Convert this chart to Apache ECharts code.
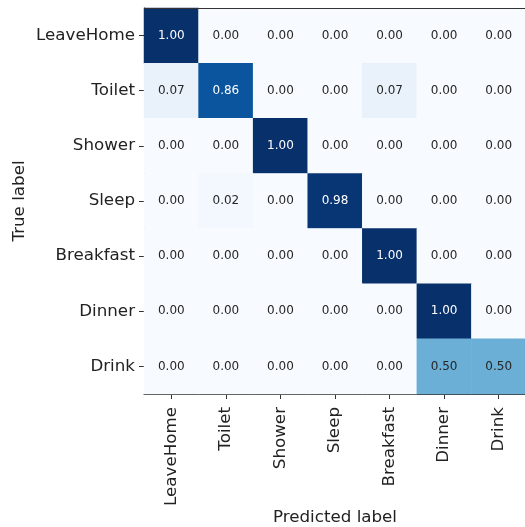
<!DOCTYPE html>
<html>
<head>
<meta charset="utf-8">
<script src="https://cdn.jsdelivr.net/npm/echarts@6/dist/echarts.min.js"></script>
<style>
  html, body { margin: 0; padding: 0; background: #fff; }
  #chart { width: 525px; height: 527px; }
</style>
</head>
<body>
<div id="chart"></div>
<script>
// Activity classes (rows = true label, columns = predicted label)
const classes = ['LeaveHome', 'Toilet', 'Shower', 'Sleep', 'Breakfast', 'Dinner', 'Drink'];

// Row-normalised confusion matrix, one array per true class
const rowLeaveHome = [1.00, 0.00, 0.00, 0.00, 0.00, 0.00, 0.00];
const rowToilet    = [0.07, 0.86, 0.00, 0.00, 0.07, 0.00, 0.00];
const rowShower    = [0.00, 0.00, 1.00, 0.00, 0.00, 0.00, 0.00];
const rowSleep     = [0.00, 0.02, 0.00, 0.98, 0.00, 0.00, 0.00];
const rowBreakfast = [0.00, 0.00, 0.00, 0.00, 1.00, 0.00, 0.00];
const rowDinner    = [0.00, 0.00, 0.00, 0.00, 0.00, 1.00, 0.00];
const rowDrink     = [0.00, 0.00, 0.00, 0.00, 0.00, 0.50, 0.50];

const matrix = [rowLeaveHome, rowToilet, rowShower, rowSleep, rowBreakfast, rowDinner, rowDrink];

// Matplotlib "Blues" colour ramp
const blues = ['#f7fbff', '#deebf7', '#c6dbef', '#9ecae1', '#6baed6',
               '#4292c6', '#2171b5', '#08519c', '#08306b'];

const maxVal = Math.max(...matrix.map(r => Math.max(...r)));
const thresh = maxVal / 2;

const cells = [];
matrix.forEach((row, i) => {
  row.forEach((v, j) => {
    cells.push({
      value: [j, i, v],
      label: { color: v > thresh ? '#ffffff' : '#262626' }
    });
  });
});

const font = 'DejaVu Sans';
const chart = echarts.init(document.getElementById('chart'), null, { renderer: 'canvas' });

chart.setOption({
  animation: false,
  backgroundColor: '#ffffff',
  grid: {
    left: 144, top: 8, width: 382, height: 386,
    containLabel: false,
    outerBoundsMode: 'none'
  },
  xAxis: {
    type: 'category',
    data: classes,
    position: 'bottom',
    name: 'Predicted label',
    nameLocation: 'middle',
    nameGap: 115,
    nameMoveOverlap: false,
    nameTextStyle: { fontFamily: font, fontSize: 16.7, color: '#222' },
    axisLine: { show: true, lineStyle: { color: '#333', width: 1 } },
    axisTick: { show: true, alignWithLabel: true, length: 5, lineStyle: { color: '#333' } },
    axisLabel: { rotate: 90, margin: 13, fontFamily: font, fontSize: 16.7, color: '#222' },
    splitLine: { show: false },
    splitArea: { show: false }
  },
  yAxis: {
    type: 'category',
    data: classes,
    inverse: true,
    name: 'True label',
    nameLocation: 'middle',
    nameGap: 116,
    nameMoveOverlap: false,
    nameRotate: 90,
    nameTextStyle: { fontFamily: font, fontSize: 16.7, color: '#222' },
    axisLine: { show: true, lineStyle: { color: '#333', width: 1 } },
    axisTick: { show: true, alignWithLabel: true, length: 5, lineStyle: { color: '#333' } },
    axisLabel: { margin: 9, fontFamily: font, fontSize: 16.7, color: '#222' },
    splitLine: { show: false },
    splitArea: { show: false }
  },
  visualMap: {
    show: false,
    type: 'continuous',
    min: 0,
    max: 1,
    dimension: 2,
    inRange: { color: blues }
  },
  series: [{
    type: 'heatmap',
    data: cells,
    label: {
      show: true,
      fontFamily: font,
      fontSize: 12,
      formatter: p => p.value[2].toFixed(2)
    },
    itemStyle: { borderWidth: 0 },
    emphasis: { disabled: true }
  }],
  graphic: [{
    // top border of the matrix frame
    type: 'line',
    shape: { x1: 144, y1: 8.5, x2: 525, y2: 8.5 },
    style: { stroke: '#333', lineWidth: 1 },
    z: 10
  }]
});
</script>
</body>
</html>
